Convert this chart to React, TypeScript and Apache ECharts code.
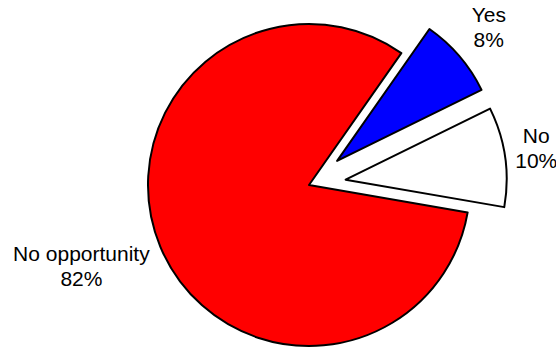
import React, { useEffect, useRef } from 'react';
import * as echarts from 'echarts';

const categories = ['Yes', 'No', 'No opportunity'];
const values = [8, 10, 82];
const colors = ['#0000FF', '#FFFFFF', '#FF0000'];
const exploded = [true, true, false];
const labelLen = [45.5, 64.9, 48.9];
const labelLen2 = [-5.1, -33, 33.8];

export default function App() {
  const ref = useRef<HTMLDivElement>(null);
  useEffect(() => {
    if (!ref.current) return;
    const chart = echarts.init(ref.current, undefined, { renderer: 'svg' });
    const data = categories.map((name, i) => ({
      name,
      value: values[i],
      selected: exploded[i],
      itemStyle: { color: colors[i] },
      select: { itemStyle: { color: colors[i], borderColor: '#000', borderWidth: 2 } },
      labelLine: { show: false, length: labelLen[i], length2: labelLen2[i] },
    }));
    chart.setOption({
      animation: false,
      backgroundColor: '#ffffff',
      series: [
        {
          type: 'pie',
          center: [309, 185],
          radius: 161,
          startAngle: 55,
          clockwise: true,
          avoidLabelOverlap: false,
          selectedMode: 'multiple',
          selectedOffset: 37,
          emphasis: { disabled: true },
          itemStyle: { borderColor: '#000', borderWidth: 2 },
          label: {
            show: true,
            position: 'outside',
            alignTo: 'none',
            distanceToLabelLine: 0,
            edgeDistance: 0,
            overflow: 'none',
            color: '#000',
            fontFamily: '"Liberation Sans", Arial, sans-serif',
            fontSize: 21,
            lineHeight: 25,
            formatter: (p: any) => `${p.name}\n${Math.round(p.percent)}%`,
          },
          labelLayout: () => ({ align: 'center', verticalAlign: 'middle' }),
          data,
        },
      ],
    });
    return () => chart.dispose();
  }, []);
  return (
    <div
      ref={ref}
      style={{ position: 'absolute', left: 0, top: 0, width: 556, height: 349 }}
    />
  );
}
